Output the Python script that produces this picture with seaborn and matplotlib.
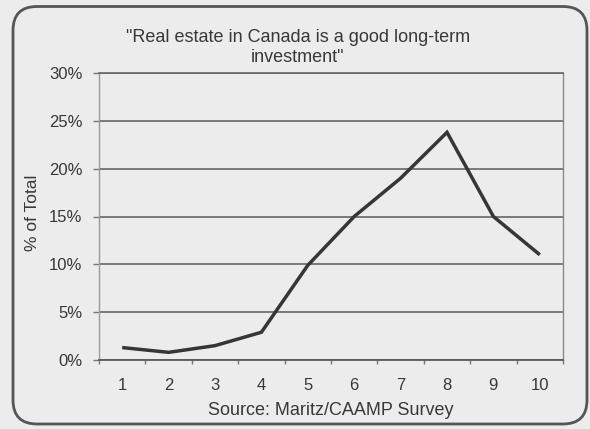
import matplotlib
matplotlib.use("Agg")
import matplotlib.pyplot as plt
import seaborn as sns
from matplotlib.patches import FancyBboxPatch
from matplotlib.transforms import IdentityTransform
from matplotlib.ticker import FixedLocator, NullFormatter, FuncFormatter

# Survey answers: 1 (strongly disagree) .. 10 (strongly agree)
scores = [1, 2, 3, 4, 5, 6, 7, 8, 9, 10]
share_pct = [1.3, 0.8, 1.5, 2.9, 9.9, 15.0, 19.0, 23.8, 15.0, 11.0]
y_ticks = [0, 5, 10, 15, 20, 25, 30]
title_text = '"Real estate in Canada is a good long-term\ninvestment"'
y_title = "% of Total"
source_text = "Source: Maritz/CAAMP Survey"

sns.set_theme(style="white")
plt.rcParams["font.family"] = ["Liberation Sans", "DejaVu Sans"]

BG = "#ececec"
TEXT = "#383838"
GRID = "#666666"
LINE = "#363636"

W, H = 590, 429
fig = plt.figure(figsize=(W / 100, H / 100), dpi=100, facecolor=BG)
ax = fig.add_axes([99 / W, (H - 360) / H, 464 / W, 287 / H], facecolor=BG)

sns.lineplot(x=scores, y=share_pct, ax=ax, color=LINE, linewidth=2.5,
             solid_joinstyle="miter", solid_capstyle="butt", zorder=3)

# Category axis: ticks on the boundaries, labels centred on each category
ax.set_xlim(0.5, 10.5)
ax.xaxis.set_major_locator(FixedLocator([s + 0.5 for s in [0] + scores]))
ax.xaxis.set_major_formatter(NullFormatter())
ax.set_xticks(scores, minor=True)
ax.set_xticklabels([str(s) for s in scores], minor=True)
ax.tick_params(axis="x", which="major", direction="out", length=3.2,
               width=1.0, color="#777777", bottom=True)
ax.tick_params(axis="x", which="minor", length=0, pad=13,
               labelsize=12, labelcolor=TEXT)

ax.set_ylim(0, 30)
ax.set_yticks(y_ticks)
ax.yaxis.set_major_formatter(FuncFormatter(lambda v, p: f"{v:.0f}%"))
ax.tick_params(axis="y", which="major", direction="out", length=4,
               width=1.0, color="#777777", left=True, pad=8,
               labelsize=12, labelcolor=TEXT)

ax.yaxis.grid(True, color=GRID, linewidth=1.2)
ax.xaxis.grid(False)
ax.set_axisbelow(True)

for side, col, lw in [("left", "#9a9a9a", 1.0), ("right", "#8a8a8a", 1.0),
                      ("top", GRID, 1.2), ("bottom", "#5a5a5a", 1.3)]:
    ax.spines[side].set_visible(True)
    ax.spines[side].set_color(col)
    ax.spines[side].set_linewidth(lw)

ax.set_ylabel(y_title, fontsize=12.5, color=TEXT)
ax.yaxis.set_label_coords(-0.127, 0.512)

ax.set_xlabel(source_text, fontsize=13, color=TEXT)
ax.xaxis.set_label_coords(0.5, -0.175)
ax.xaxis.label.set_va("center")

fig.text(298 / W, 1 - 47.5 / H, title_text, ha="center", va="center",
         multialignment="center", fontsize=13, color=TEXT, linespacing=1.25)

# Rounded frame around the whole chart
frame = FancyBboxPatch((13, 5), 574, 417.5,
                       boxstyle="round,pad=0,rounding_size=24",
                       transform=IdentityTransform(), facecolor="none",
                       edgecolor="#555555", linewidth=2.0)
fig.add_artist(frame)

fig.savefig("out.png", dpi=100, facecolor=BG)
